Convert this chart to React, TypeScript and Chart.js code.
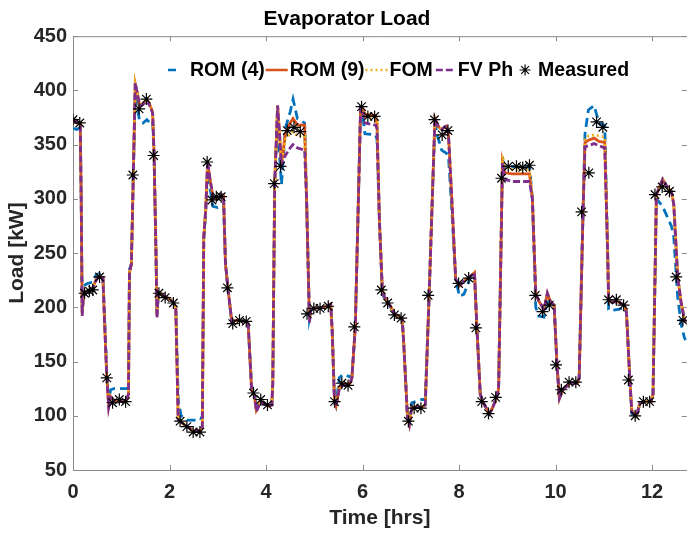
import React, { useEffect, useRef } from "react";
import { Chart, registerables } from "chart.js";

Chart.register(...registerables);

// ---- Data (time in hours, load in kW) ----
const timeHrs = [
  0.0, 0.08, 0.15, 0.17, 0.19, 0.22, 0.3, 0.4, 0.48, 0.54, 0.62, 0.66, 0.7, 0.74, 0.78, 0.85, 0.95, 1.1, 1.15, 1.17,
  1.21, 1.25, 1.29, 1.33, 1.38, 1.45, 1.53, 1.6, 1.65, 1.68, 1.72, 1.74, 1.77, 1.9, 2.0, 2.09, 2.13, 2.18, 2.24, 2.37,
  2.5, 2.64, 2.68, 2.71, 2.75, 2.79, 2.84, 2.9, 3.0, 3.08, 3.12, 3.16, 3.21, 3.29, 3.4, 3.58, 3.63, 3.7, 3.76, 3.8,
  3.89, 4.05, 4.12, 4.14, 4.18, 4.24, 4.28, 4.32, 4.4, 4.5, 4.56, 4.65, 4.8, 4.84, 4.9, 4.93, 5.0, 5.2, 5.34, 5.37,
  5.42, 5.45, 5.52, 5.6, 5.74, 5.78, 5.85, 5.96, 6.0, 6.05, 6.27, 6.3, 6.35, 6.41, 6.45, 6.54, 6.68, 6.82, 6.85, 6.93,
  6.97, 7.02, 7.23, 7.3, 7.38, 7.5, 7.56, 7.64, 7.74, 7.78, 7.85, 7.93, 8.01, 8.1, 8.22, 8.32, 8.37, 8.44, 8.49, 8.63,
  8.7, 8.78, 8.82, 8.9, 8.95, 9.1, 9.3, 9.46, 9.52, 9.59, 9.65, 9.76, 9.83, 9.9, 9.97, 10.03, 10.08, 10.15, 10.3, 10.45,
  10.49, 10.57, 10.61, 10.68, 10.8, 10.9, 11.02, 11.08, 11.1, 11.13, 11.3, 11.43, 11.47, 11.54, 11.58, 11.68, 11.75, 11.85, 11.98, 12.02,
  12.09, 12.22, 12.3, 12.4, 12.45, 12.53, 12.6, 12.67, 12.7,
];

const rom4Load = [
  365, 364, 366, 300, 200, 220, 222, 223, 230, 231, 228, 185, 140, 115, 124, 125, 125, 125, 126, 235,
  240, 322, 398, 385, 372, 370, 373, 370, 372, 340, 250, 195, 213, 210, 208, 204, 200, 115, 100, 96,
  96, 96, 100, 262, 288, 325, 310, 293, 292, 294, 295, 240, 218, 186, 188, 187, 185, 128, 120, 108,
  112, 109, 110, 130, 314, 378, 340, 313, 365, 380, 392, 374, 370, 300, 190, 197, 199, 200, 203, 180,
  115, 110, 135, 138, 136, 136, 182, 382, 378, 360, 359, 355, 280, 214, 208, 203, 193, 190, 170, 102,
  95, 112, 115, 115, 211, 370, 357, 345, 342, 340, 290, 226, 210, 212, 226, 232, 181, 120, 113, 102,
  108, 117, 125, 339, 328, 330, 329, 330, 300, 200, 192, 191, 205, 203, 202, 147, 116, 124, 130, 130,
  135, 289, 360, 382, 386, 370, 368, 250, 198, 197, 198, 200, 195, 133, 102, 100, 112, 113, 113, 120,
  300, 293, 285, 275, 265, 210, 185, 172, 170,
];

const rom9Load = [
  371, 370, 370, 300, 194, 213, 215, 217, 226, 229, 227, 180, 136, 109, 118, 114, 113, 113, 120, 232,
  240, 322, 406, 398, 386, 388, 392, 386, 380, 341, 250, 193, 214, 210, 208, 204, 200, 98, 94, 90,
  86, 86, 90, 265, 290, 334, 318, 302, 300, 304, 303, 240, 218, 187, 188, 187, 185, 125, 118, 105,
  113, 109, 110, 130, 314, 386, 360, 331, 360, 370, 374, 368, 368, 300, 188, 198, 199, 200, 203, 180,
  113, 109, 126, 129, 130, 135, 182, 384, 384, 378, 377, 370, 280, 216, 210, 204, 193, 190, 170, 100,
  92, 108, 108, 110, 211, 374, 367, 364, 367, 360, 300, 226, 220, 224, 228, 232, 181, 120, 113, 102,
  108, 117, 125, 334, 324, 323, 323, 323, 300, 213, 206, 198, 213, 205, 202, 147, 116, 124, 130, 130,
  135, 289, 352, 354, 356, 353, 352, 250, 207, 205, 205, 202, 195, 133, 105, 100, 112, 113, 113, 120,
  304, 318, 312, 307, 295, 229, 205, 189, 186,
];

const fomLoad = [
  371, 370, 370, 300, 195, 213, 215, 217, 226, 229, 227, 180, 136, 110, 118, 114, 113, 113, 120, 232,
  240, 322, 405, 397, 385, 387, 391, 386, 380, 341, 250, 193, 214, 210, 208, 204, 200, 98, 94, 90,
  86, 86, 90, 265, 290, 334, 318, 302, 300, 304, 303, 240, 218, 187, 188, 187, 185, 125, 118, 105,
  113, 109, 110, 130, 314, 386, 360, 331, 355, 360, 362, 358, 358, 300, 188, 198, 199, 200, 203, 180,
  113, 109, 126, 129, 130, 135, 182, 384, 383, 376, 375, 370, 280, 216, 210, 204, 193, 190, 170, 100,
  92, 108, 108, 110, 211, 374, 367, 364, 367, 360, 300, 226, 220, 224, 228, 232, 181, 120, 113, 102,
  108, 117, 125, 340, 330, 327, 327, 328, 300, 213, 206, 198, 213, 205, 202, 147, 116, 124, 130, 130,
  135, 289, 355, 358, 359, 358, 357, 250, 207, 205, 205, 202, 195, 133, 105, 100, 112, 113, 113, 120,
  304, 318, 312, 307, 295, 229, 205, 189, 186,
];

const fvPhLoad = [
  372, 371, 370, 300, 192, 212, 215, 217, 225, 229, 227, 180, 136, 108, 117, 114, 113, 113, 120, 232,
  240, 322, 407, 398, 386, 387, 391, 385, 379, 341, 250, 190, 214, 210, 208, 204, 200, 96, 94, 90,
  86, 86, 90, 265, 290, 335, 318, 302, 300, 304, 303, 240, 218, 187, 188, 187, 185, 125, 118, 104,
  113, 109, 110, 130, 314, 386, 360, 331, 340, 347, 350, 347, 345, 300, 186, 198, 199, 200, 203, 180,
  112, 108, 125, 128, 130, 135, 182, 384, 382, 370, 368, 365, 280, 216, 210, 204, 193, 190, 170, 99,
  92, 108, 108, 110, 211, 374, 368, 364, 368, 360, 300, 226, 220, 224, 228, 232, 181, 120, 113, 102,
  108, 117, 125, 333, 318, 316, 316, 316, 300, 213, 206, 198, 213, 205, 202, 147, 116, 124, 130, 130,
  135, 289, 348, 349, 351, 349, 347, 250, 207, 205, 205, 202, 195, 133, 103, 100, 112, 113, 113, 120,
  304, 318, 312, 307, 295, 229, 205, 189, 186,
];

const measuredTime = [
  0.0, 0.14, 0.24, 0.34, 0.41, 0.55, 0.7, 0.82, 0.96, 1.09, 1.24, 1.37, 1.52, 1.67, 1.78, 1.91, 2.08, 2.22, 2.36, 2.49,
  2.63, 2.78, 2.88, 2.97, 3.07, 3.2, 3.31, 3.45, 3.59, 3.74, 3.89, 4.03, 4.17, 4.3, 4.44, 4.58, 4.71, 4.85, 4.99, 5.12,
  5.29, 5.42, 5.57, 5.7, 5.83, 5.98, 6.11, 6.25, 6.39, 6.52, 6.66, 6.8, 6.95, 7.07, 7.21, 7.36, 7.49, 7.65, 7.77, 7.99,
  8.2, 8.35, 8.47, 8.61, 8.76, 8.88, 9.02, 9.19, 9.32, 9.46, 9.58, 9.73, 9.87, 10.01, 10.12, 10.28, 10.42, 10.54, 10.69, 10.85,
  10.98, 11.1, 11.26, 11.41, 11.51, 11.65, 11.82, 11.95, 12.06, 12.21, 12.36, 12.5, 12.64,
];

const measuredLoad = [
  373, 370, 213, 215, 216, 228, 135, 112, 115, 113, 322, 383, 392, 340, 213, 209, 204, 95, 90, 85,
  85, 334, 299, 302, 302, 218, 185, 188, 187, 121, 115, 110, 314, 330, 363, 366, 362, 194, 199, 199,
  201, 113, 130, 128, 182, 385, 376, 376, 216, 204, 193, 190, 95, 107, 107, 211, 373, 359, 363, 222,
  227, 181, 113, 102, 117, 319, 330, 330, 329, 331, 211, 196, 202, 147, 124, 131, 131, 288, 324, 371,
  366, 207, 207, 202, 133, 100, 113, 113, 304, 311, 307, 228, 188,
];

const xTicks = [0, 2, 4, 6, 8, 10, 12];
const yTicks = [50, 100, 150, 200, 250, 300, 350, 400, 450];

const seriesLabels = ["ROM (4)", "ROM (9)", "FOM", "FV Ph", "Measured"];
const seriesColors = ["#0072BD", "#D95319", "#EDB120", "#7E2F8E", "#000000"];

const FONT = "'Liberation Sans', Arial, Helvetica, sans-serif";
const TEXT = "#262626";
const AXIS = "#8a8a8a";

const framePlugin = {
  id: "matlabFrame",
  beforeDatasetsDraw(chart: any) {
    const { ctx, chartArea } = chart;
    const { left, right, top, bottom } = chartArea;
    const xs = chart.scales.x;
    const ys = chart.scales.y;
    const tl = 5;
    ctx.save();
    ctx.strokeStyle = AXIS;
    ctx.lineWidth = 1;
    ctx.beginPath();
    ctx.moveTo(left + 0.5, top + 0.5);
    ctx.lineTo(right, top + 0.5);
    ctx.moveTo(left + 0.5, top);
    ctx.lineTo(left + 0.5, bottom + 0.5);
    ctx.lineTo(right, bottom + 0.5);
    xTicks.forEach((v) => {
      const px = Math.round(xs.getPixelForValue(v)) + 0.5;
      ctx.moveTo(px, bottom);
      ctx.lineTo(px, bottom - tl);
      ctx.moveTo(px, top);
      ctx.lineTo(px, top + tl);
    });
    yTicks.forEach((v) => {
      const py = Math.round(ys.getPixelForValue(v)) + 0.5;
      ctx.moveTo(left, py);
      ctx.lineTo(left + tl, py);
      ctx.moveTo(right, py);
      ctx.lineTo(right - tl, py);
    });
    ctx.stroke();
    ctx.restore();
  },
};

const legendPlugin = {
  id: "matlabLegend",
  afterDraw(chart: any) {
    const { ctx } = chart;
    const y = 70;
    let x = 166;
    const sampleW = 22;
    ctx.save();
    ctx.font = `bold 19.5px ${FONT}`;
    ctx.textBaseline = "middle";
    ctx.textAlign = "left";
    seriesLabels.forEach((label, i) => {
      ctx.save();
      ctx.strokeStyle = seriesColors[i];
      ctx.lineWidth = 2.5;
      if (i === 0) {
        ctx.beginPath();
        ctx.moveTo(x + 2, y);
        ctx.lineTo(x + 10, y);
        ctx.stroke();
      } else if (i === 1) {
        ctx.beginPath();
        ctx.moveTo(x, y);
        ctx.lineTo(x + sampleW, y);
        ctx.stroke();
      } else if (i === 2) {
        ctx.setLineDash([2, 3]);
        ctx.beginPath();
        ctx.moveTo(x, y);
        ctx.lineTo(x + sampleW, y);
        ctx.stroke();
      } else if (i === 3) {
        ctx.setLineDash([7, 3]);
        ctx.beginPath();
        ctx.moveTo(x + 2, y);
        ctx.lineTo(x + sampleW - 2, y);
        ctx.stroke();
      } else {
        const cx = x + sampleW / 2;
        const r = 5.5;
        ctx.lineWidth = 1.2;
        ctx.beginPath();
        for (let k = 0; k < 4; k++) {
          const a = (k * Math.PI) / 4;
          ctx.moveTo(cx - r * Math.cos(a), y - r * Math.sin(a));
          ctx.lineTo(cx + r * Math.cos(a), y + r * Math.sin(a));
        }
        ctx.stroke();
      }
      ctx.restore();
      ctx.fillStyle = "#000";
      ctx.fillText(label, x + sampleW + 2, y + 1);
      x += sampleW + 2 + ctx.measureText(label).width + 1;
    });
    ctx.restore();
  },
};

function toPoints(xs: number[], ys: number[]) {
  return xs.map((x, i) => ({ x, y: ys[i] }));
}

export default function App() {
  const ref = useRef<HTMLCanvasElement>(null);

  useEffect(() => {
    document.body.style.margin = "0";
    const canvas = ref.current;
    if (!canvas) return;
    const tickFont = { family: FONT, size: 20, weight: "bold" as const };
    const titleFont = { family: FONT, size: 21, weight: "bold" as const };
    const lineCommon = { pointRadius: 0, tension: 0, fill: false, borderWidth: 2.8 };
    const chart = new Chart(canvas, {
      type: "line",
      data: {
        datasets: [
          { label: seriesLabels[0], data: toPoints(timeHrs, rom4Load), borderColor: seriesColors[0], borderDash: [9, 5], order: 4, ...lineCommon },
          { label: seriesLabels[1], data: toPoints(timeHrs, rom9Load), borderColor: seriesColors[1], order: 3, ...lineCommon },
          { label: seriesLabels[2], data: toPoints(timeHrs, fomLoad), borderColor: seriesColors[2], borderDash: [2, 3], order: 2, ...lineCommon },
          { label: seriesLabels[3], data: toPoints(timeHrs, fvPhLoad), borderColor: seriesColors[3], borderDash: [7, 3], order: 1, ...lineCommon },
          {
            label: seriesLabels[4],
            data: toPoints(measuredTime, measuredLoad),
            showLine: false,
            pointStyle: "star",
            pointRadius: 6,
            borderColor: seriesColors[4],
            backgroundColor: seriesColors[4],
            borderWidth: 1.2,
            order: 0,
          },
        ],
      },
      options: {
        animation: false,
        responsive: false,
        layout: { padding: { left: 0, right: 0, top: 0, bottom: 0 } },
        plugins: {
          legend: { display: false },
          tooltip: { enabled: false },
          title: {
            display: true,
            text: "Evaporator Load",
            color: "#000",
            font: titleFont,
            padding: { top: 7, bottom: 4 },
          },
        },
        scales: {
          x: {
            type: "linear",
            min: 0,
            max: 12.72,
            afterBuildTicks: (s: any) => {
              s.ticks = xTicks.map((v) => ({ value: v }));
            },
            afterFit: (s: any) => {
              s.height = 65;
            },
            grid: { display: false, drawTicks: false },
            border: { display: false },
            ticks: { font: tickFont, color: TEXT, padding: 10, maxRotation: 0, autoSkip: false },
            title: { display: true, text: "Time [hrs]", color: TEXT, font: titleFont, padding: { top: 0, bottom: 4 } },
          },
          y: {
            type: "linear",
            min: 50,
            max: 450,
            afterBuildTicks: (s: any) => {
              s.ticks = yTicks.map((v) => ({ value: v }));
            },
            afterFit: (s: any) => {
              s.width = 73;
            },
            grid: { display: false, drawTicks: false },
            border: { display: false },
            ticks: { font: tickFont, color: TEXT, padding: 6, autoSkip: false },
            title: { display: true, text: "Load [kW]", color: TEXT, font: titleFont, padding: { top: 5, bottom: 0 } },
          },
        },
      },
      plugins: [framePlugin, legendPlugin],
    });
    return () => chart.destroy();
  }, []);

  return <canvas ref={ref} width={694} height={535} style={{ display: "block" }} />;
}
